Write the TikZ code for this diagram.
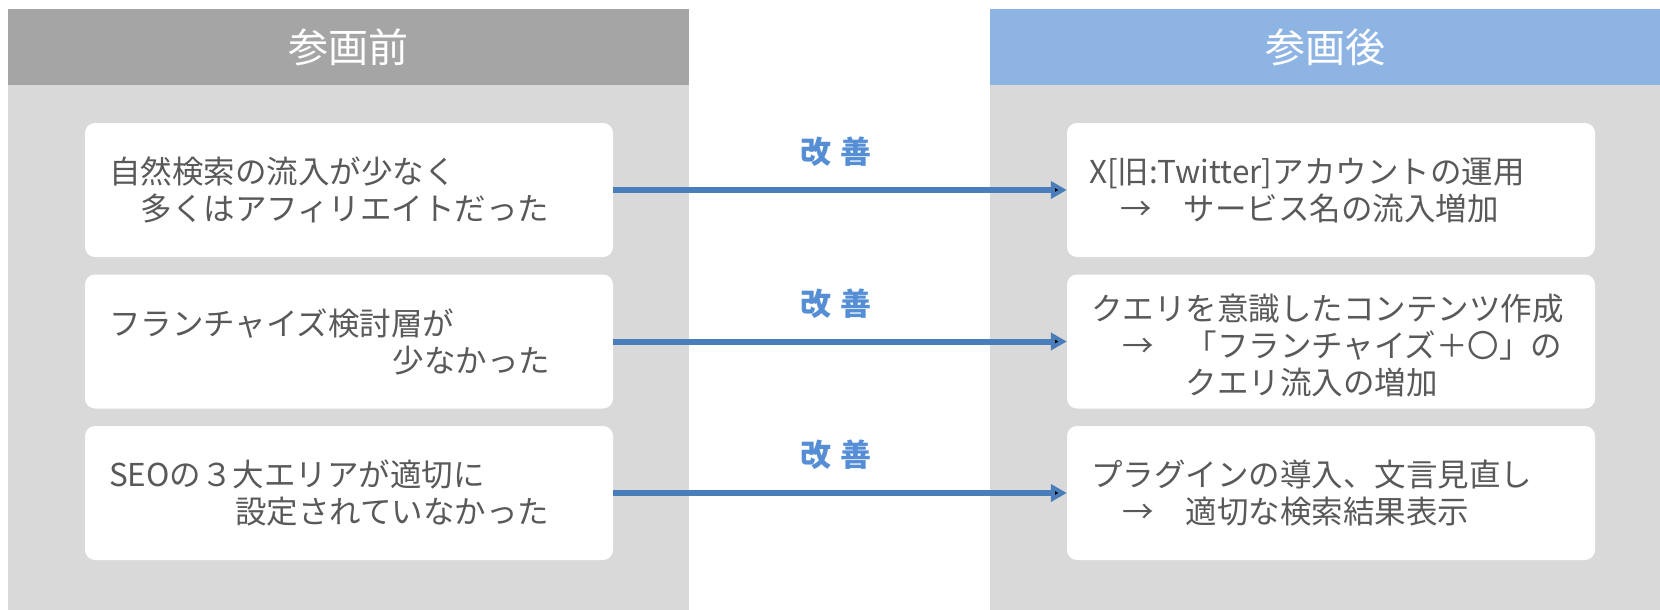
\documentclass[tikz,border=0pt]{standalone}
\usepackage{fontspec}
\setmainfont{Noto Sans CJK JP}
\usetikzlibrary{positioning,arrows.meta}
\definecolor{headgray}{HTML}{A5A5A5}
\definecolor{headblue}{HTML}{8EB4E3}
\definecolor{panelgray}{HTML}{D9D9D9}
\definecolor{txtgray}{HTML}{595959}
\definecolor{arrowblue}{HTML}{4A7EBB}
\definecolor{labelblue}{HTML}{558ED5}

\begin{document}
\begin{tikzpicture}[x=1pt,y=1pt,on grid,node distance=151.5pt,
	head/.style={text=white,font=\fontsize{40}{48}\selectfont,minimum height=76pt,inner sep=0pt},
	box/.style={fill=white,rounded corners=10pt,minimum width=528pt,minimum height=134pt,inner sep=0pt},
	txt/.style={text=txtgray,font=\fontsize{31.5}{37}\selectfont,inner sep=0pt,anchor=west,align=left},
	flow/.style={draw=arrowblue,line width=6pt,-{Triangle[length=16pt,width=17pt]}},
	kaizen/.style={text=labelblue,font=\fontsize{31}{36}\selectfont\bfseries,yshift=38pt,xshift=-4pt}] 
	\useasboundingbox (0,0) rectangle (1660,-610);
	% panels
	\fill[panelgray] (8,-85) rectangle (689,-610);
	\fill[panelgray] (990,-85) rectangle (1660,-610);
	\node[head,fill=headgray,minimum width=681pt] (before) at (348.5,-47) {参画前};
	\node[head,fill=headblue,minimum width=670pt] (after) at (1325,-47) {参画後};
	% boxes
	\node[box] (L1) at (349,-190) {};
	\node[box,below=of L1] (L2) {};
	\node[box,below=of L2] (L3) {};
	\node[box] (R1) at (1331,-190) {};
	\node[box,below=of R1] (R2) {};
	\node[box,below=of R2] (R3) {};
	% texts
	\node[txt] (L1t) at ([xshift=24pt]L1.west) {自然検索の流入が少なく\\\hspace*{1em}多くはアフィリエイトだった};
	\node[txt] (L2t) at ([xshift=24pt]L2.west) {フランチャイズ検討層が\\\hspace*{9em}少なかった};
	\node[txt] (L3t) at ([xshift=24pt]L3.west) {SEOの３大エリアが適切に\\\hspace*{4em}設定されていなかった};
	\node[txt] (R1t) at ([xshift=22pt]R1.west) {X[旧:Twitter]アカウントの運用\\　→　サービス名の流入増加};
	\node[txt] (R2t) at ([xshift=24pt,yshift=-4pt]R2.west) {クエリを意識したコンテンツ作成\\　→　「フランチャイズ＋〇」の\\　　　クエリ流入の増加};
	\node[txt] (R3t) at ([xshift=24pt]R3.west) {プラグインの導入、文言見直し\\　→　適切な検索結果表示};
	% arrows
	\path[flow]
	(L1) edge node[kaizen] {改\hspace{9pt}善} (R1)
	(L2) edge node[kaizen] {改\hspace{9pt}善} (R2)
	(L3) edge node[kaizen] {改\hspace{9pt}善} (R3);
\end{tikzpicture}
\end{document}
